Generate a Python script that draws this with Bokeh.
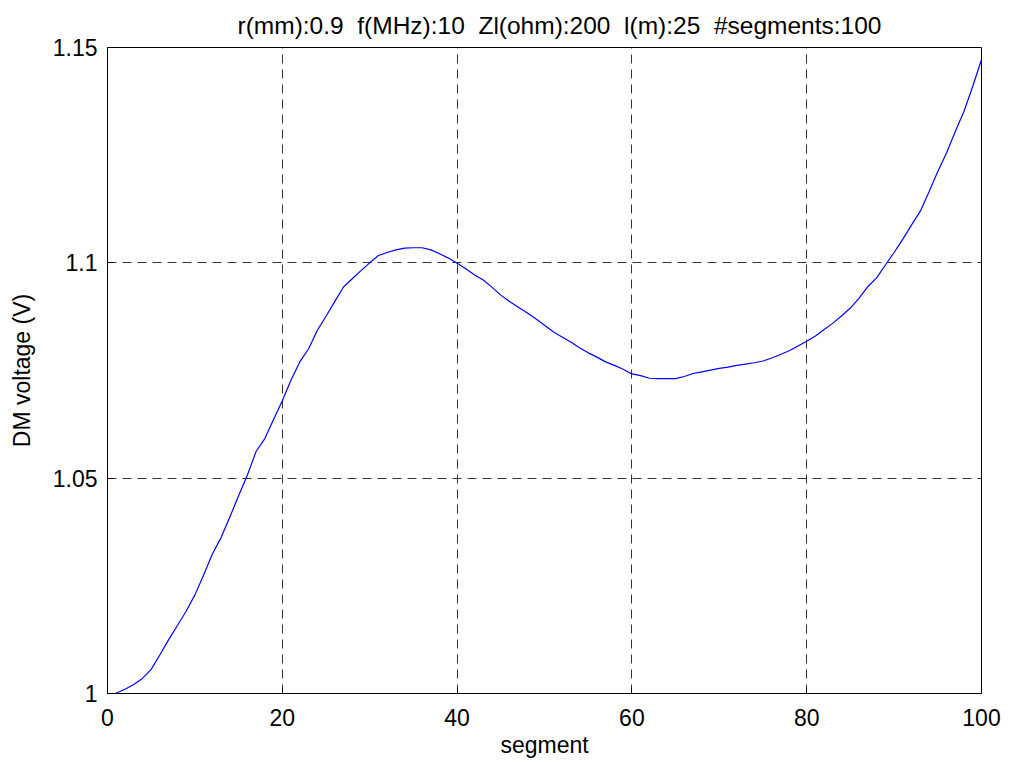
from bokeh.plotting import figure
from bokeh.models import FixedTicker, Range1d, Title
from bokeh.embed import file_html
from bokeh.resources import INLINE

segments = list(range(1, 101))
voltage = [
    1.0001, 1.0010, 1.0021, 1.0035, 1.0056, 1.0090, 1.0125, 1.0158, 1.0191, 1.0229,
    1.0275, 1.0324, 1.0362, 1.0410, 1.0459, 1.0507, 1.0562, 1.0592, 1.0636, 1.0680,
    1.0728, 1.0770, 1.0800, 1.0843, 1.0876, 1.0910, 1.0944, 1.0963, 1.0982, 1.1000,
    1.1017, 1.1024, 1.1030, 1.1034, 1.1035, 1.1035, 1.1030, 1.1021, 1.1011, 1.0999,
    1.0986, 1.0972, 1.0960, 1.0943, 1.0925, 1.0910, 1.0897, 1.0884, 1.0870, 1.0855,
    1.0840, 1.0828, 1.0816, 1.0803, 1.0791, 1.0781, 1.0770, 1.0762, 1.0753, 1.0742,
    1.0738, 1.0732, 1.0731, 1.0731, 1.0731, 1.0736, 1.0743, 1.0747, 1.0751, 1.0755,
    1.0758, 1.0762, 1.0765, 1.0768, 1.0772, 1.0779, 1.0787, 1.0796, 1.0807, 1.0818,
    1.0830, 1.0845, 1.0860, 1.0877, 1.0895, 1.0918, 1.0945, 1.0965, 1.0995, 1.1024,
    1.1055, 1.1088, 1.1120, 1.1165, 1.1212, 1.1255, 1.1305, 1.1352, 1.1410, 1.1472,
]
x_ticks = [0, 20, 40, 60, 80, 100]
y_ticks = [1.0, 1.05, 1.1, 1.15]
y_tick_labels = {1.0: "1", 1.05: "1.05", 1.1: "1.1", 1.15: "1.15"}
title_text = "r(mm):0.9\u00a0 f(MHz):10\u00a0 Zl(ohm):200\u00a0 l(m):25\u00a0 #segments:100"

FONT = "Liberation Sans"

p = figure(
    output_backend="svg", toolbar_location=None,
    frame_width=874, frame_height=646,
    min_border_left=107, min_border_right=23, min_border_top=47, min_border_bottom=66,
    x_range=Range1d(0, 100), y_range=Range1d(1.0, 1.15),
    background_fill_color="white", border_fill_color="white",
)
p.title = Title(text=title_text, align="left", text_font=FONT, text_font_size="24.5px",
                text_font_style="normal", text_color="black", standoff=18, offset=130)

p.outline_line_color = "black"
p.outline_line_width = 1
p.outline_line_alpha = 1

for ax in (p.xaxis[0], p.yaxis[0]):
    ax.axis_line_color = "black"
    ax.major_tick_in = 6
    ax.major_tick_out = 0
    ax.minor_tick_line_color = None
    ax.major_label_text_font = FONT
    ax.major_label_text_font_size = "23px"
    ax.major_label_text_color = "black"
    ax.axis_label_text_font = FONT
    ax.axis_label_text_font_size = "23px"
    ax.axis_label_text_font_style = "normal"
    ax.axis_label_text_color = "black"

p.xaxis.ticker = FixedTicker(ticks=x_ticks)
p.yaxis.ticker = FixedTicker(ticks=y_ticks)
p.yaxis.major_label_overrides = y_tick_labels
p.xaxis.axis_label = "segment"
p.yaxis.axis_label = "DM voltage (V)"
p.xaxis.major_label_standoff = 15
p.yaxis.major_label_standoff = 10
p.xaxis.axis_label_standoff = 3
p.yaxis.axis_label_standoff = 15

p.xgrid.ticker = FixedTicker(ticks=[20, 40, 60, 80])
p.ygrid.ticker = FixedTicker(ticks=[1.05, 1.1])
for g in (p.xgrid[0], p.ygrid[0]):
    g.grid_line_color = "black"
    g.grid_line_alpha = 0.8
    g.grid_line_width = 1
    g.grid_line_dash = "9 6"

p.line(segments, voltage, line_color="#0000ff", line_width=1.2)

open("out.html", "w").write(file_html(p, INLINE))
